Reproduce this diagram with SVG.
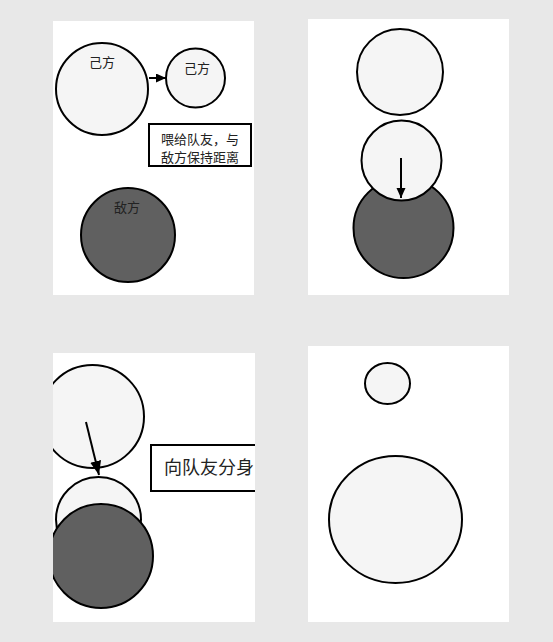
<svg xmlns="http://www.w3.org/2000/svg" width="553" height="642" viewBox="0 0 553 642">
<style>
.panel{fill:#ffffff;stroke:none}
.light{fill:#f5f5f5;stroke:#000;stroke-width:2}
.dark{fill:#606060;stroke:#000;stroke-width:2}
.box{fill:#ffffff;stroke:#000;stroke-width:2}
.lbl{font-family:"Noto Sans CJK SC","Noto Sans",sans-serif;fill:#222;text-anchor:middle}
.conn{stroke:#000;stroke-width:2;fill:none}
</style>
<defs>
<marker id="ah" markerUnits="userSpaceOnUse" markerWidth="11" markerHeight="10" refX="10" refY="4.5" orient="auto">
<path d="M0,0 L10,4.5 L0,9 z" fill="#000"/>
</marker>
<marker id="ahL" markerUnits="userSpaceOnUse" markerWidth="15" markerHeight="12" refX="14" refY="5.5" orient="auto">
<path d="M0,0 L14,5.5 L0,11 z" fill="#000"/>
</marker>
<clipPath id="c3"><rect x="53" y="353" width="202" height="269"/></clipPath>
</defs>
<rect x="0" y="0" width="553" height="642" fill="#e8e8e8"/>
<g id="panel1">
<rect class="panel" x="53" y="21" width="201" height="274"/>
<g id="p1-self-large"><circle class="light" cx="102" cy="89" r="46"/><text class="lbl" x="102" y="67" font-size="13">己方</text></g>
<g id="p1-self-small"><circle class="light" cx="195.5" cy="78" r="29.5"/><text class="lbl" x="197" y="73" font-size="13">己方</text></g>
<g id="p1-note"><rect class="box" x="149" y="124" width="102" height="42"/><text class="lbl" x="200" y="144" font-size="13">喂给队友，与</text><text class="lbl" x="200" y="162" font-size="13">敌方保持距离</text></g>
<g id="p1-enemy"><circle class="dark" cx="128" cy="235" r="47"/><text class="lbl" x="127" y="212" font-size="13">敌方</text></g>
</g>
<g id="panel2">
<rect class="panel" x="308" y="19" width="201" height="276"/>
<g id="p2-top"><circle class="light" cx="400" cy="72" r="43"/></g>
<g id="p2-enemy"><circle class="dark" cx="403.5" cy="228" r="50"/></g>
<g id="p2-mid"><circle class="light" cx="401.5" cy="160.5" r="40"/></g>
</g>
<g id="panel3">
<rect class="panel" x="53" y="353" width="202" height="269"/>
<g clip-path="url(#c3)">
<g id="p3-top"><circle class="light" cx="92.5" cy="416.5" r="51.5"/></g>
<g id="p3-mid"><circle class="light" cx="98.5" cy="519.5" r="42.5"/></g>
<g id="p3-enemy"><circle class="dark" cx="101" cy="556" r="52"/></g>
<g id="p3-note"><rect class="box" x="151" y="445" width="120" height="46"/><text class="lbl" x="209" y="474" font-size="18">向队友分身</text></g>
</g>
</g>
<g id="panel4">
<rect class="panel" x="308" y="346" width="201" height="276"/>
<g id="p4-small"><ellipse class="light" cx="387.5" cy="383.5" rx="22.5" ry="20.5"/></g>
<g id="p4-large"><ellipse class="light" cx="395.5" cy="519.5" rx="66.5" ry="63.5"/></g>
</g>
<g id="connectors">
<line class="conn" x1="149" y1="78" x2="166" y2="78" marker-end="url(#ah)"/>
<line class="conn" x1="401" y1="158" x2="401" y2="198" marker-end="url(#ah)"/>
<line class="conn" x1="86" y1="422" x2="99" y2="475" marker-end="url(#ahL)"/>
</g>
</svg>
